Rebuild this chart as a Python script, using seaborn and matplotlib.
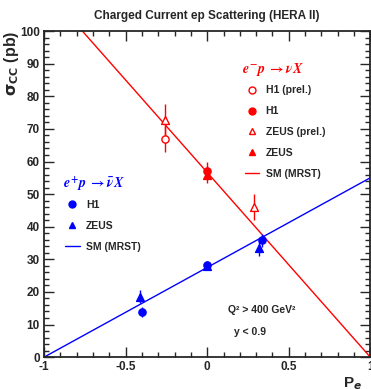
import numpy as np
import pandas as pd
import matplotlib
matplotlib.use('Agg')
import matplotlib.pyplot as plt
import seaborn as sns
from matplotlib.lines import Line2D
from matplotlib.ticker import MultipleLocator

# e- p -> nu X
em_h1p_x, em_h1p_y, em_h1p_err = [-0.26], [66.8], [4.0]
em_h1_x, em_h1_y, em_h1_err = [0.0], [57.0], [2.8]
em_zeusp_x, em_zeusp_y, em_zeusp_err = [-0.26, 0.29], [72.7, 46.0], [5.0, 4.0]
em_zeus_x, em_zeus_y, em_zeus_err = [0.0], [56.0], [2.5]

# e+ p -> nubar X
ep_h1_x, ep_h1_y, ep_h1_err = [-0.40, 0.0, 0.335], [13.9, 28.3, 35.9], [1.5, 1.2, 2.0]
ep_zeus_x, ep_zeus_y, ep_zeus_err = [-0.415, 0.0, 0.32], [18.5, 27.8, 33.5], [2.0, 1.2, 2.5]

# SM (MRST) predictions
sm_pol = [-1.0, 1.0]
sm_em = [113.3, 0.0]
sm_ep = [0.0, 55.0]

sns.set_style('ticks')
plt.rcParams['font.family'] = ['Liberation Sans', 'DejaVu Sans']
plt.rcParams['font.weight'] = 'bold'

fig = plt.figure(figsize=(3.71, 3.89), dpi=100)
ax = fig.add_axes([0.119, 0.082, 0.879, 0.838])

red, blue = '#ff0000', '#0000ff'

sns.lineplot(x=sm_pol, y=sm_em, color=red, lw=1, ax=ax)
sns.lineplot(x=sm_pol, y=sm_ep, color=blue, lw=1, ax=ax)

def points(xs, ys, errs, col, marker, filled, s):
    ax.errorbar(xs, ys, yerr=errs, fmt='none', ecolor=col, elinewidth=1, capsize=0, zorder=3)
    face = col if filled else 'white'
    sns.scatterplot(x=xs, y=ys, marker=marker, s=s, color=face, edgecolor=col,
                    linewidth=1, ax=ax, zorder=4)

points(em_zeusp_x, em_zeusp_y, em_zeusp_err, red, '^', False, 32)
points(em_h1p_x, em_h1p_y, em_h1p_err, red, 'o', False, 27)
points(em_zeus_x, em_zeus_y, em_zeus_err, red, '^', True, 32)
points(em_h1_x, em_h1_y, em_h1_err, red, 'o', True, 27)
points(ep_zeus_x, ep_zeus_y, ep_zeus_err, blue, '^', True, 32)
points(ep_h1_x, ep_h1_y, ep_h1_err, blue, 'o', True, 27)

ax.set_xlim(-1, 1)
ax.set_ylim(0, 100)
ax.xaxis.set_major_locator(MultipleLocator(0.5))
ax.xaxis.set_minor_locator(MultipleLocator(0.1))
ax.yaxis.set_major_locator(MultipleLocator(10))
ax.yaxis.set_minor_locator(MultipleLocator(2))
ax.set_xticks([-1, -0.5, 0, 0.5, 1], ['-1', '-0.5', '0', '0.5', '1'])
ax.tick_params(which='both', direction='in', top=True, right=True, labelsize=8.5, width=1)
ax.tick_params(which='major', length=7, pad=3)
ax.tick_params(which='minor', length=3.5)
for sp in ax.spines.values():
    sp.set_linewidth(1.3)

ax.set_title('Charged Current ep Scattering (HERA II)', fontsize=8.5, fontweight='bold', pad=9)
ax.set_ylabel(r'$\mathrm{\sigma_{CC}}$ (pb)', loc='top', fontsize=11.5, fontweight='bold',
              math_fontfamily='dejavusans')
ax.yaxis.set_label_coords(-0.072, 1.0)
ax.set_xlabel(r'P$_e$', loc='right', fontsize=11, fontweight='bold')
ax.xaxis.set_label_coords(0.975, -0.055)

# legend titles
ax.text(0.606, 0.882, r'$e^{-}p\ \rightarrow \nu X$', transform=ax.transAxes, color=red,
        fontsize=10, math_fontfamily='stix', va='center', ha='left')
ax.text(0.058, 0.531, r'$e^{+}p\ \rightarrow \bar{\nu} X$', transform=ax.transAxes, color=blue,
        fontsize=10, math_fontfamily='stix', va='center', ha='left')

def mk(col, marker, filled):
    return Line2D([], [], ls='none', marker=marker, ms=5, color=col,
                  markerfacecolor=col if filled else 'white', markeredgecolor=col)

em_handles = [mk(red, 'o', False), mk(red, 'o', True), mk(red, '^', False),
              mk(red, '^', True), Line2D([], [], color=red, lw=1)]
em_labels = ['H1 (prel.)', 'H1', 'ZEUS (prel.)', 'ZEUS', 'SM (MRST)']
leg1 = ax.legend(em_handles, em_labels, loc='upper left', bbox_to_anchor=(0.615, 0.834),
                 frameon=False, prop={'weight': 'bold', 'size': 7.5},
                 handlelength=1.4, handletextpad=0.6, labelspacing=1.05,
                 borderpad=0, borderaxespad=0, numpoints=1)
ax.add_artist(leg1)

ep_handles = [mk(blue, 'o', True), mk(blue, '^', True), Line2D([], [], color=blue, lw=1)]
ep_labels = ['H1', 'ZEUS', 'SM (MRST)']
ax.legend(ep_handles, ep_labels, loc='upper left', bbox_to_anchor=(0.064, 0.483),
          frameon=False, prop={'weight': 'bold', 'size': 7.5},
          handlelength=1.4, handletextpad=0.6, labelspacing=1.05,
          borderpad=0, borderaxespad=0, numpoints=1)

ax.text(0.565, 0.145, 'Q² > 400 GeV²', transform=ax.transAxes, fontsize=7.5,
        fontweight='bold', va='center')
ax.text(0.582, 0.078, 'y < 0.9', transform=ax.transAxes, fontsize=7.5,
        fontweight='bold', va='center')

fig.savefig('out.png', dpi=100)
